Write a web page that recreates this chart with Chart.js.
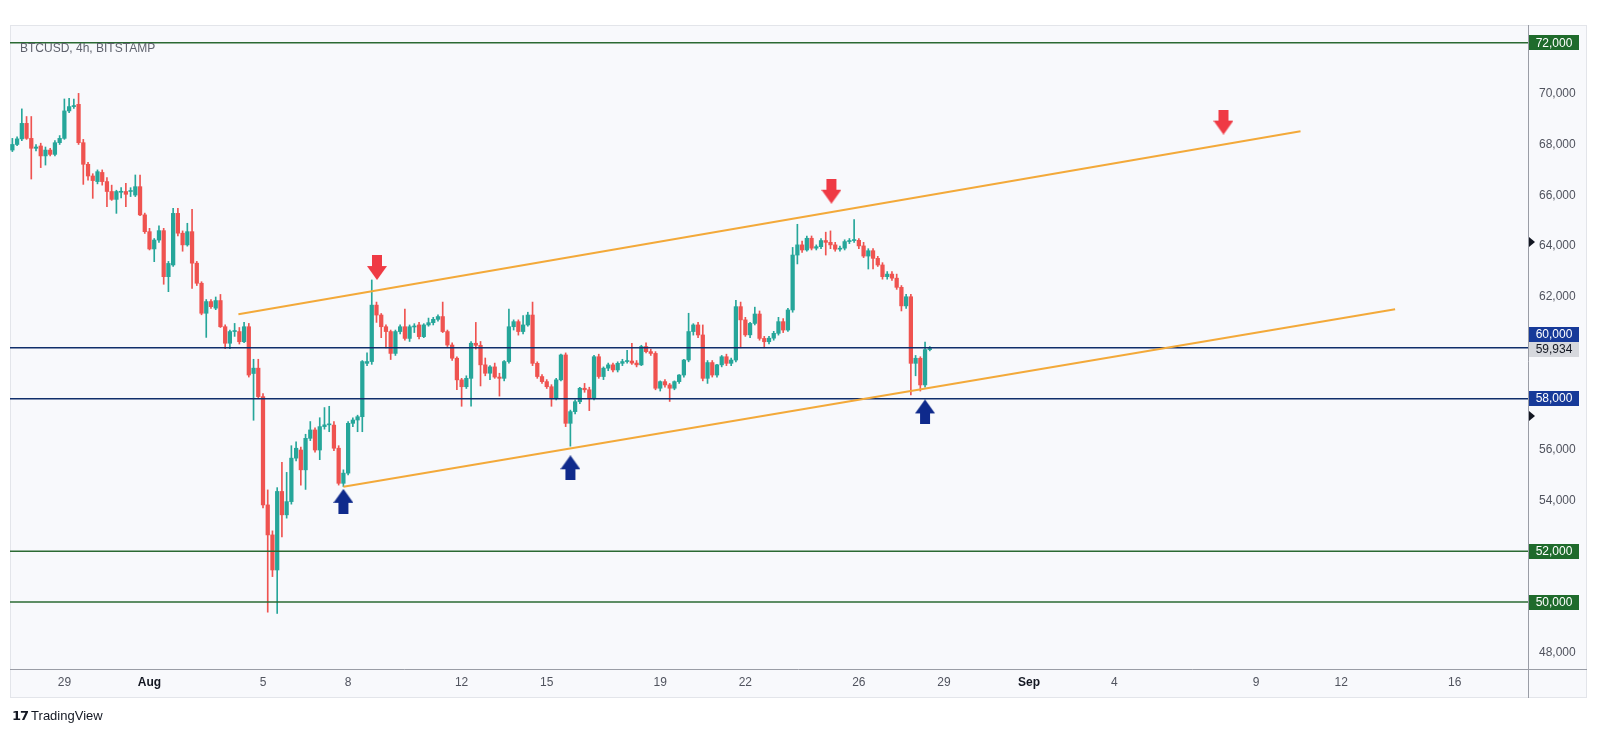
<!DOCTYPE html>
<html>
<head>
<meta charset="utf-8">
<title>BTCUSD 4h</title>
<script src="https://cdn.jsdelivr.net/npm/chart.js@4.4.1/dist/chart.umd.min.js"></script>
<style>
    html, body { margin: 0; padding: 0; background: #fff; }
    #wrap { position: relative; width: 1597px; height: 736px; overflow: hidden; }
    #c { position: absolute; left: 0; top: 0; }
    #sym { position: absolute; left: 20px; top: 41px; font: 12px "Liberation Sans", Arial, sans-serif; color: #5f626d; }
    #tv { position: absolute; left: 12px; top: 708px; font: 13px "Liberation Sans", Arial, sans-serif; color: #131722; }
    #tv b { font-family: "DejaVu Sans", sans-serif; font-weight: 900; letter-spacing: -1px; margin-right: 3px; }
</style>
</head>
<body>
<div id="wrap">
    <canvas id="c" width="1597" height="736"></canvas>
    <div id="sym">BTCUSD, 4h, BITSTAMP</div>
    <div id="tv"><b>17</b>TradingView</div>
</div>
<script>
// ===== Data (4h candles, index 0 = Jul 27 04:00) =====
const opens = [
    67780, 68000, 68220, 68830, 68240, 67850, 67940, 67550, 67780, 67610,
    68070, 68240, 69320, 69490, 69580, 68070, 67220, 66760, 66540, 66900,
    66540, 66150, 65840, 66120, 66150, 66150, 66010, 66340, 65230, 64570,
    63890, 64240, 64610, 62800, 63260, 65290, 64510, 64050, 64570, 63330,
    62540, 61360, 61820, 61560, 61860, 60830, 60180, 60640, 60640, 60240,
    60830, 58990, 59200, 58080, 53820, 52640, 51260, 54350, 53430, 53950,
    55660, 55980, 55200, 56440, 56770, 55980, 56900, 56970, 56960, 56050,
    54670, 55070, 57030, 57160, 57290, 59390, 59460, 61680, 61290, 60830,
    60640, 59780, 60640, 60830, 60370, 60820, 60900, 60440, 60900, 60990,
    61120, 61230, 60640, 60110, 59590, 58740, 58470, 58800, 60180, 60100,
    59330, 59000, 59250, 58850, 58800, 59460, 60830, 61030, 60640, 60900,
    61290, 59390, 58870, 58670, 58470, 58010, 58740, 59720, 57030, 57490,
    57880, 58410, 58350, 58010, 59650, 58870, 59200, 59330, 59130, 59390,
    59460, 59480, 59400, 59330, 60050, 59850, 59780, 58410, 58670, 58540,
    58410, 58670, 58930, 59520, 60640, 60900, 60506, 58800, 59420, 58930,
    59330, 59650, 59390, 59520, 61620, 61100, 60510, 60960, 61330, 60370,
    60240, 60380, 60570, 61030, 60700, 61490, 63650, 64050, 63850, 64310,
    63920, 63980, 64220, 64150, 64050, 63880, 63920, 64180, 64220, 64230,
    64010, 63610, 63820, 63520, 63260, 62800, 62900, 62740, 62380, 61650,
    62010, 59390, 59590, 58540, 59930
];
const highs = [
    68240, 68300, 69400, 69100, 69100, 68000, 68050, 67900, 67850, 68150,
    68350, 69790, 69815, 69790, 70010, 68200, 67300, 66850, 67000, 67000,
    66700, 66400, 66200, 66300, 66470, 66300, 66800, 66800, 65300, 64700,
    64300, 64800, 64700, 63400, 65490, 65490, 64600, 64900, 65450, 63400,
    62600, 61900, 61900, 62000, 62100, 60900, 60700, 60960, 60800, 61000,
    60960, 59550, 59550, 58200, 54410, 52800, 54500, 55500, 55100, 56150,
    56300, 56100, 56600, 57100, 56850, 57250, 57650, 57700, 57100, 56150,
    55200, 57100, 57250, 57350, 59500, 59800, 62670, 61800, 61350, 60900,
    60700, 60700, 60900, 61520, 60900, 60950, 61000, 60950, 61170, 61200,
    61300, 61800, 60700, 60200, 59650, 58800, 58900, 60250, 61000, 60250,
    59600, 59300, 59400, 59000, 59500, 61520, 61100, 61100, 61270, 61400,
    61800, 59450, 58950, 58750, 58550, 58800, 59750, 59800, 57550, 57950,
    58450, 58600, 58450, 59700, 59750, 59250, 59400, 59400, 59450, 59550,
    59900, 60180, 59500, 60100, 60200, 59950, 59850, 58700, 58750, 58600,
    58700, 58950, 59550, 61360, 60950, 61000, 60900, 59500, 59500, 59350,
    59700, 59750, 59600, 61870, 61800, 61200, 61000, 61600, 61450, 60450,
    60450, 60650, 61200, 61150, 61550, 63950, 64860, 64200, 64400, 64400,
    64050, 64300, 64550, 64600, 64150, 64000, 64250, 64300, 65050, 64300,
    64150, 63900, 63900, 63600, 63350, 63000, 63000, 62900, 62450, 62100,
    62100, 59700, 59650, 60230, 60050
];
const lows = [
    67720, 67950, 68150, 68200, 66640, 67750, 67090, 67190, 67550, 67550,
    68000, 68200, 69250, 69420, 68000, 66430, 66600, 65880, 66450, 66400,
    65550, 65800, 65290, 65900, 65550, 65950, 65950, 65200, 64500, 63850,
    63390, 64150, 62500, 62210, 63200, 64400, 63800, 64000, 62340, 62450,
    61300, 60410, 61550, 61500, 60800, 59970, 59970, 60450, 60150, 60200,
    58850, 57150, 58000, 53700, 49600, 51000, 49550, 52560, 53300, 53850,
    55550, 54600, 54430, 56350, 55900, 55600, 56800, 56700, 55950, 54600,
    54540, 55000, 56900, 56700, 56700, 59300, 59350, 61000, 60400, 60000,
    59540, 59700, 60550, 60300, 60250, 60600, 60350, 60400, 60850, 60900,
    61050, 60600, 60050, 59500, 58350, 57700, 58400, 57700, 59950, 58500,
    58900, 58750, 58800, 58100, 58700, 59400, 60700, 60500, 60550, 60850,
    59300, 58800, 58600, 58400, 57700, 57950, 58700, 56900, 56130, 57400,
    57800, 58250, 57530, 57950, 58800, 58750, 59100, 59050, 59050, 59300,
    59400, 59350, 59250, 59300, 59800, 59700, 58350, 58300, 58450, 57890,
    58350, 58600, 58850, 59450, 60500, 60400, 58700, 58600, 58850, 58850,
    59250, 59300, 59300, 59450, 60000, 60450, 60400, 60900, 60300, 60000,
    60150, 60300, 60500, 60600, 60650, 61400, 63300, 63750, 63800, 63850,
    63850, 63900, 63650, 63900, 63800, 63800, 63850, 64100, 64150, 63900,
    63550, 63100, 63100, 63200, 62700, 62700, 62650, 62300, 61450, 61550,
    58150, 58900, 58300, 58450, 59880
];
const closes = [
    68000, 68220, 68830, 68240, 67850, 67900, 67550, 67780, 67610, 68070,
    68240, 69320, 69490, 69530, 68070, 67220, 66760, 66580, 66930, 66540,
    66150, 65840, 66150, 66140, 66040, 66170, 66340, 65230, 64570, 63890,
    64240, 64610, 62800, 63320, 65290, 64510, 64050, 64570, 63330, 62540,
    61360, 61820, 61620, 61860, 60830, 60180, 60640, 60640, 60240, 60830,
    58930, 59200, 58080, 53820, 52640, 51260, 54350, 53430, 53950, 55660,
    56050, 55200, 56440, 56770, 55980, 56900, 56970, 56990, 56050, 54670,
    55070, 57030, 57160, 57290, 59460, 59460, 61680, 61290, 60830, 60640,
    59780, 60640, 60830, 60370, 60830, 60840, 60440, 60900, 60990, 61120,
    61230, 60640, 60110, 59590, 58740, 58470, 58800, 60180, 60100, 59330,
    59000, 59250, 58850, 58800, 59460, 60830, 61030, 60640, 60900, 61290,
    59390, 58870, 58670, 58470, 58010, 58740, 59720, 57030, 57490, 57880,
    58410, 58350, 58010, 59650, 58870, 59200, 59330, 59130, 59390, 59460,
    59480, 59400, 59330, 60050, 59850, 59780, 58410, 58670, 58540, 58410,
    58670, 58930, 59520, 60640, 60900, 60506, 58800, 59420, 58930, 59330,
    59650, 59390, 59520, 61620, 61100, 60510, 60960, 61330, 60370, 60240,
    60380, 60570, 61030, 60700, 61490, 63650, 64050, 63850, 64310, 63920,
    63980, 64220, 64150, 64050, 63880, 63920, 64180, 64220, 64230, 64010,
    63610, 63820, 63520, 63260, 62800, 62900, 62740, 62380, 61650, 62010,
    59390, 59590, 58540, 59930, 59934
];

// horizontal levels
const greenLevels = [72000, 52000, 50000];
const blueLevels = [60000, 58000];
const lastPrice = 59934;
const axisMarks = [64160, 59934, 57320];

// channel lines: [candleIndex, price] start and end
const upperLine = [[47.8, 61320], [272.4, 68520]];
const lowerLine = [[70.0, 54537], [292.4, 61520]];

// arrow markers
const sellArrows = [[77.1, 63160], [173.2, 66160], [256.1, 68880]];
const buyArrows = [[70.0, 53960], [118.0, 55280], [193.0, 57480]];

// axes
const xRange = [-0.5, 320.5];
const yRange = [47365, 72700];
const yTicks = [48000, 50000, 52000, 54000, 56000, 58000, 60000, 62000, 64000, 66000, 68000, 70000];
const dateTickPos = [11, 29, 53, 71, 95, 113, 137, 155, 179, 197, 215, 233, 263, 281, 305];
const dateTickText = ['29', 'Aug', '5', '8', '12', '15', '19', '22', '26', '29', 'Sep', '4', '9', '12', '16'];
const monthLabels = ['Aug', 'Sep'];

(function () {
    // ===== Helpers =====
    const UP = '#26a69a';
    const DOWN = '#ef5350';
    const FONT = '"Liberation Sans", Arial, sans-serif';
    const fmt = (v) => Number(v).toLocaleString('en-US');

    const idx = opens.map((_, i) => i);
    const candleColor = idx.map(i => closes[i] >= opens[i] ? UP : DOWN);

    // block arrow used as a point style
    function makeArrow(color, down) {
        const w = 20, h = 25, c = document.createElement('canvas');
        c.width = w; c.height = h;
        const g = c.getContext('2d');
        g.fillStyle = color;
        g.save();
        if (!down) { g.translate(0, h); g.scale(1, -1); }
        g.fillRect(5, 0, 10, 12);
        g.beginPath();
        g.moveTo(0, 11); g.lineTo(w, 11); g.lineTo(w / 2, h); g.closePath();
        g.fill();
        g.restore();
        return c;
    }

    const hline = (lvl, color, width) => ({
        type: 'line',
        data: [{ x: xRange[0], y: lvl }, { x: xRange[1], y: lvl }],
        borderColor: color, borderWidth: width, pointRadius: 0, order: 2
    });
    const segLine = (pts) => ({
        type: 'line',
        data: pts.map(p => ({ x: p[0], y: p[1] })),
        borderColor: '#f3a939', borderWidth: 2, pointRadius: 0, order: 1
    });
    const arrows = (pts, img) => ({
        type: 'line',
        data: pts.map(p => ({ x: p[0], y: p[1] })),
        showLine: false, pointStyle: img, pointRadius: 8, pointHoverRadius: 8, order: 0
    });

    // ===== Plugins =====
    const framePlugin = {
        id: 'frame',
        beforeDraw(chart) {
            const { ctx, chartArea: a, scales: { x, y } } = chart;
            ctx.save();
            ctx.fillStyle = '#fff';
            ctx.fillRect(0, 0, chart.width, chart.height);
            const r = y.right, b = x.bottom;
            ctx.fillStyle = '#f8f9fc';
            ctx.fillRect(a.left, a.top, r - a.left, b - a.top);
            ctx.strokeStyle = '#e3e5ea';
            ctx.lineWidth = 1;
            ctx.strokeRect(a.left + 0.5, a.top + 0.5, r - a.left - 1, b - a.top - 1);
            ctx.restore();
        },
        afterDraw(chart) {
            const { ctx, chartArea: a, scales: { x, y } } = chart;
            ctx.save();
            // axis separators
            ctx.strokeStyle = '#9a9da6';
            ctx.lineWidth = 1;
            ctx.beginPath();
            ctx.moveTo(a.right + 0.5, a.top); ctx.lineTo(a.right + 0.5, x.bottom);
            ctx.moveTo(a.left, a.bottom + 0.5); ctx.lineTo(y.right, a.bottom + 0.5);
            ctx.stroke();

            // little markers on the price scale
            ctx.fillStyle = '#131722';
            axisMarks.forEach(p => {
                const py = y.getPixelForValue(p);
                ctx.beginPath();
                ctx.moveTo(a.right + 1, py - 5); ctx.lineTo(a.right + 7, py); ctx.lineTo(a.right + 1, py + 5);
                ctx.closePath(); ctx.fill();
            });

            // level boxes
            const bx = a.right + 1, bw = 50, bh = 15;
            const priceY = y.getPixelForValue(lastPrice);
            const box = (val, cy, bg, fg) => {
                ctx.fillStyle = bg;
                ctx.fillRect(bx, Math.round(cy - bh / 2), bw, bh);
                ctx.fillStyle = fg;
                ctx.font = '12px ' + FONT;
                ctx.textAlign = 'center';
                ctx.textBaseline = 'middle';
                ctx.fillText(fmt(val), bx + bw / 2, cy + 0.5);
            };
            box(lastPrice, priceY, '#d6d8dd', '#131722');
            greenLevels.forEach(v => box(v, y.getPixelForValue(v), '#1f6b2c', '#fff'));
            blueLevels.forEach(v => {
                let cy = y.getPixelForValue(v);
                if (Math.abs(cy - priceY) < bh) cy = priceY - bh;
                box(v, cy, '#173a99', '#fff');
            });
            ctx.restore();
        }
    };

    // ===== Chart =====
    new Chart(document.getElementById('c'), {
        type: 'bar',
        data: {
            datasets: [
                {
                    data: idx.map(i => ({ x: i, y: [lows[i], highs[i]] })),
                    backgroundColor: candleColor, barThickness: 1, grouped: false,
                    borderWidth: 0, order: 4
                },
                {
                    data: idx.map(i => ({ x: i, y: [opens[i], closes[i]] })),
                    backgroundColor: candleColor, barThickness: 3.6, minBarLength: 1, grouped: false,
                    borderWidth: 0, order: 3
                },
                ...greenLevels.map(v => hline(v, '#2b6a33', 1.5)),
                ...blueLevels.map(v => hline(v, '#102f6b', 1.5)),
                segLine(upperLine),
                segLine(lowerLine),
                arrows(sellArrows, makeArrow('#ef3a44', true)),
                arrows(buyArrows, makeArrow('#0f2a8c', false))
            ]
        },
        options: {
            responsive: false,
            animation: false,
            devicePixelRatio: 1,
            layout: { padding: { left: 10, top: 25, right: 10, bottom: 38 } },
            plugins: { legend: { display: false }, tooltip: { enabled: false } },
            scales: {
                x: {
                    type: 'linear', min: xRange[0], max: xRange[1], offset: false,
                    grid: { display: false, drawTicks: false }, border: { display: false },
                    afterBuildTicks: s => { s.ticks = dateTickPos.map(v => ({ value: v })); },
                    afterFit: s => { s.height = 29; },
                    ticks: {
                        autoSkip: false, maxRotation: 0, padding: 6,
                        callback: v => dateTickText[dateTickPos.indexOf(v)],
                        color: c => monthLabels.includes(c.tick && c.tick.label) ? '#131722' : '#50535e',
                        font: c => ({
                            family: FONT, size: 12,
                            weight: monthLabels.includes(c.tick && c.tick.label) ? 'bold' : 'normal'
                        })
                    }
                },
                y: {
                    position: 'right', min: yRange[0], max: yRange[1],
                    grid: { display: false, drawTicks: false }, border: { display: false },
                    afterBuildTicks: s => { s.ticks = yTicks.map(v => ({ value: v })); },
                    afterFit: s => { s.width = 59; },
                    ticks: { padding: 11, color: '#50535e', font: { family: FONT, size: 12 }, callback: v => fmt(v) }
                }
            }
        },
        plugins: [framePlugin]
    });
})();
</script>
</body>
</html>
